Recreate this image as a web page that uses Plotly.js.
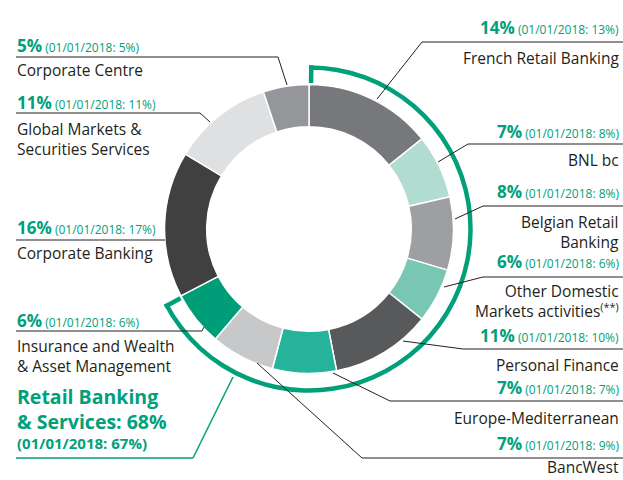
<!DOCTYPE html>
<html><head><meta charset="utf-8">
<script src="https://cdn.plot.ly/plotly-3.0.1.min.js"></script>
<style>html,body{margin:0;padding:0;background:#fff}#chart{width:623px;height:480px}</style>
</head><body><div id="chart"></div>
<script>
// ---- data ----
const segments = ['French Retail Banking','BNL bc','Belgian Retail Banking','Other Domestic Markets activities',
  'Personal Finance','Europe-Mediterranean','BancWest','Insurance and Wealth & Asset Management',
  'Corporate Banking','Global Markets & Securities Services','Corporate Centre'];
const shares = [14, 7, 8, 6, 11, 7, 7, 6, 16, 11, 5];
const shares2018 = [13, 8, 8, 6, 10, 7, 9, 6, 17, 11, 5];
const isRetail = [true, true, true, true, true, true, true, true, false, false, false];
const retailShare = 68;
const retailShare2018 = 67;
const nameLabels = ['French Retail Banking','BNL bc','Belgian Retail<br>Banking','Other Domestic<br>Markets activities<sup>(**)</sup>',
  'Personal Finance','Europe-Mediterranean','BancWest','Insurance and Wealth<br>& Asset Management',
  'Corporate Banking','Global Markets &<br>Securities Services','Corporate Centre'];
const sliceColors = ['#77787c','#b1dcd0','#9e9fa3','#79c6b3','#58595b','#25b39b','#c7c8ca','#009e78','#404041','#dfe0e1','#95969a'];

// ---- layout constants ----
const W = 623, H = 480;
const CX = 309, CY = 229, R = 144.5, HOLE = 0.708;
const RING_R = 161.5, RING_W = 4.5;
const GREEN = '#00a07a', DARK = '#231f20';
const FONT = 'Open Sans';
const TEXT_SHIFT = 2;
// per-label placement (pixels): side, pct baseline, last name baseline, rule y, rule x end, leader end
const place = [
  {side:'r', pb:33,  nb:63,  ry:42,  rx:422, lx:377, ly:99},
  {side:'r', pb:137, nb:165, ry:144, rx:468, lx:438, ly:162},
  {side:'r', pb:197, nb:247, ry:206, rx:483, lx:455, ly:219},
  {side:'r', pb:267, nb:316, ry:277, rx:483, lx:444, ly:287},
  {side:'r', pb:341, nb:370, ry:349, rx:463, lx:403, ly:341},
  {side:'r', pb:393, nb:423, ry:401, rx:390, lx:333, ly:373},
  {side:'r', pb:449, nb:472, ry:458, rx:362, lx:257, ly:363},
  {side:'l', pb:326, nb:371, ry:331, rx:202, lx:204, ly:327},
  {side:'l', pb:233, nb:258, ry:240, rx:165, lx:165, ly:240},
  {side:'l', pb:108, nb:154, ry:113, rx:200, lx:210, ly:122},
  {side:'l', pb:51,  nb:75,  ry:57,  rx:278, lx:287, ly:85}
];
const px = x => x / W, py = y => 1 - y / H;

const traces = [
  {type:'pie', values:shares, labels:segments, sort:false, direction:'clockwise', rotation:0,
   hole:HOLE, textinfo:'none', hoverinfo:'label+percent',
   marker:{colors:sliceColors, line:{color:'#ffffff', width:1.5}},
   domain:{x:[px(CX-R), px(CX+R)], y:[py(CY+R), py(CY-R)]}, showlegend:false},
  {type:'pie', values:[shares.filter((v,i)=>isRetail[i]).reduce((a,b)=>a+b,0), shares.filter((v,i)=>!isRetail[i]).reduce((a,b)=>a+b,0)],
   labels:['Retail Banking & Services','Other'], sort:false, direction:'clockwise', rotation:0,
   hole:(RING_R-RING_W/2)/(RING_R+RING_W/2), textinfo:'none', hoverinfo:'skip',
   marker:{colors:[GREEN,'rgba(0,0,0,0)'], line:{width:0}},
   domain:{x:[px(CX-RING_R-RING_W/2), px(CX+RING_R+RING_W/2)], y:[py(CY+RING_R+RING_W/2), py(CY-RING_R-RING_W/2)]}, showlegend:false}
];

const annotations = [];
const shapes = [];
function addText(text, x, baseline, anchor, size, color, weight, descSize) {
  const d = 0.293 * (descSize || size) + 1;
  annotations.push({text:text, xref:'paper', yref:'paper', x:px(x), y:py(baseline + d + TEXT_SHIFT),
    xanchor:anchor, yanchor:'bottom', align:anchor, showarrow:false,
    font:{family:FONT, size:size, color:color, weight:weight||'normal'}});
}
function line(x0,y0,x1,y1,color,width){
  shapes.push({type:'line', xref:'paper', yref:'paper', x0:px(x0), y0:py(y0), x1:px(x1), y1:py(y1),
    line:{color:color, width:width}});
}
segments.forEach((s,i)=>{
  const p = place[i];
  const ax = p.side === 'r' ? 621 : 15;
  const anc = p.side === 'r' ? 'right' : 'left';
  addText('<span style="font-size:17px;font-weight:bold">' + shares[i] + '%</span> (01/01/2018: ' + shares2018[i] + '%)',
    ax, p.pb, anc, 12, GREEN, 'normal', 17);
  addText(nameLabels[i], ax, p.nb, anc, 15.5, DARK);
  if (p.side === 'r') { line(p.rx, p.ry, W, p.ry, DARK, 1); }
  else { line(16, p.ry, p.rx, p.ry, DARK, 1); }
  line(p.rx, p.ry, p.lx, p.ly, DARK, 1);
});
// Retail Banking & Services summary
addText('Retail Banking<br>& Services: ' + retailShare + '%', 15, 428, 'left', 19.5, GREEN, 'bold');
addText('(01/01/2018: ' + retailShare2018 + '%)', 15, 448, 'left', 15, GREEN, 'bold');
line(16, 458, 193, 458, GREEN, 1.5);
line(193, 458, 233, 377, GREEN, 1.5);
// ring end hooks computed from the retail share of the pie
const total = shares.reduce((a,b)=>a+b,0);
const retailSum = shares.filter((v,i)=>isRetail[i]).reduce((a,b)=>a+b,0);
const off = (RING_W/2) / RING_R;
function hook(theta){
  const r0 = RING_R + RING_W/2, r1 = R + 1.5;
  line(CX + r0*Math.sin(theta), CY - r0*Math.cos(theta), CX + r1*Math.sin(theta), CY - r1*Math.cos(theta), GREEN, RING_W);
}
hook(off);
hook(retailSum/total*2*Math.PI - off);

Plotly.newPlot('chart', traces, {
  width:W, height:H, margin:{l:0,r:0,t:0,b:0}, paper_bgcolor:'#fff', plot_bgcolor:'#fff',
  showlegend:false, annotations:annotations, shapes:shapes, font:{family:FONT}
}, {displayModeBar:false, staticPlot:true});
</script></body></html>
